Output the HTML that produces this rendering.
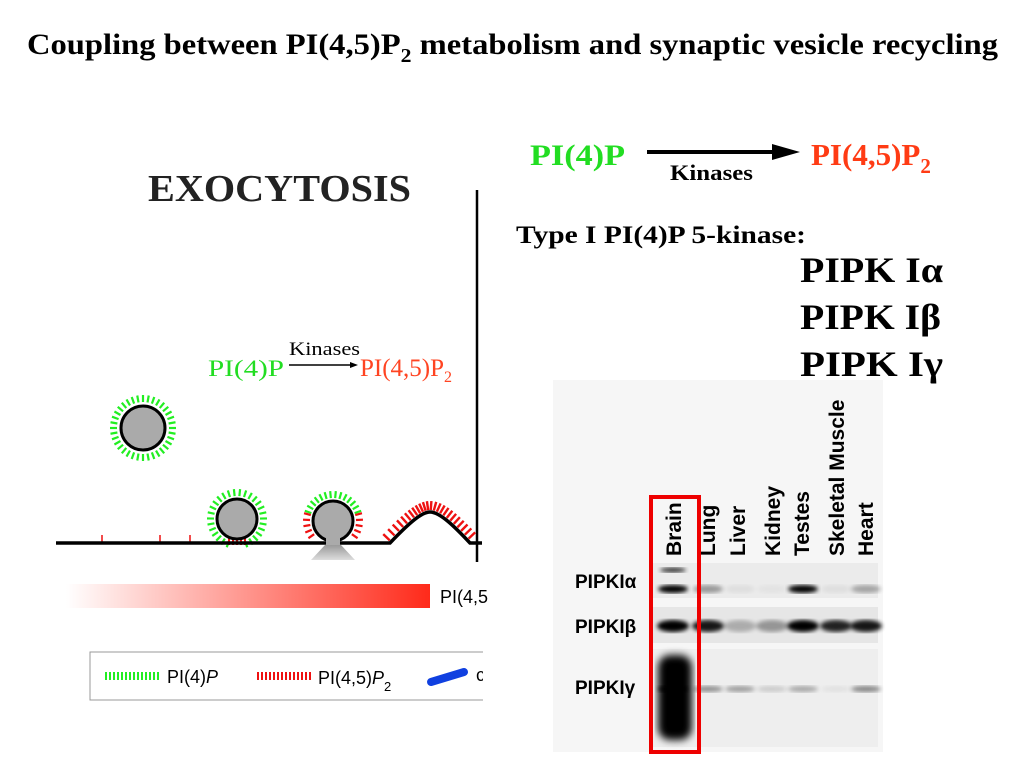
<!DOCTYPE html>
<html><head><meta charset="utf-8"><style>
html,body{margin:0;padding:0;background:#fff;width:1024px;height:768px;overflow:hidden}
svg{display:block}
.ser{font-family:"Liberation Serif",serif;font-weight:bold}
.san{font-family:"Liberation Sans",sans-serif}
</style></head><body>
<svg id="s" width="1024" height="768" viewBox="0 0 1024 768">
<defs>
<linearGradient id="gr" x1="0" x2="1"><stop offset="0" stop-color="#fff"/><stop offset="1" stop-color="#ff2a1a"/></linearGradient>
<linearGradient id="sh" x1="0" x2="0" y1="0" y2="1"><stop offset="0" stop-color="#999"/><stop offset="1" stop-color="#ddd"/></linearGradient>
<filter id="bl"><feGaussianBlur stdDeviation="2"/></filter>
<filter id="bl2"><feGaussianBlur stdDeviation="4"/></filter>
</defs>
<text class="ser" x="27" y="54" font-size="30" textLength="971" lengthAdjust="spacingAndGlyphs">Coupling between PI(4,5)P<tspan font-size="20" dy="8">2</tspan><tspan dy="-8"> metabolism and synaptic vesicle recycling</tspan></text>

<text class="ser" x="148" y="201" font-size="38" fill="#222" textLength="263" lengthAdjust="spacingAndGlyphs">EXOCYTOSIS</text>
<line x1="477" y1="190" x2="477" y2="562" stroke="#000" stroke-width="2.5"/>
<g font-family="Liberation Serif,serif" font-size="23">
<text x="208" y="376" fill="#22dd22" textLength="76" lengthAdjust="spacingAndGlyphs">PI(4)P</text>
<text x="289" y="355" font-size="19" textLength="71" lengthAdjust="spacingAndGlyphs">Kinases</text>
<line x1="289" y1="365" x2="352" y2="365" stroke="#000" stroke-width="1.5"/>
<polygon points="358,365 350,362 350,368"/>
<text x="360" y="376" fill="#ff4422" font-size="25">PI(4,5)P<tspan font-size="16" dy="6">2</tspan></text>
</g>
<g id="ticks"></g>
<path d="M56,543 L390,543 C410,522 422,512 430,512 C440,512 455,527 470,543 L482,543" fill="none" stroke="#000" stroke-width="3.5"/>
<polygon points="325,545 341,545 355,560 311,560" fill="url(#sh)"/>
<circle cx="143" cy="428" r="22" fill="#aaa" stroke="#000" stroke-width="3"/>
<circle cx="237" cy="519" r="20" fill="#aaa" stroke="#000" stroke-width="3"/>
<circle cx="333" cy="521" r="20" fill="#aaa" stroke="#000" stroke-width="3"/>
<rect x="326" y="536" width="14" height="9" fill="#aaa"/>
<rect x="66" y="584" width="364" height="24" fill="url(#gr)"/>
<text class="san" x="440" y="603" font-size="18">PI(4,5</text>
<rect x="90" y="652" width="400" height="48" fill="none" stroke="#999" stroke-width="1"/>
<g><g id="lg1"></g><text class="san" x="167" y="683" font-size="18">PI(4)<tspan font-style="italic">P</tspan></text></g>
<g><g id="lg2"></g><text class="san" x="318" y="684" font-size="18">PI(4,5)<tspan font-style="italic">P</tspan><tspan font-size="13" dy="7">2</tspan></text></g>
<line x1="431" y1="682" x2="464" y2="672" stroke="#1040e0" stroke-width="8" stroke-linecap="round"/>
<text class="san" x="476" y="681" font-size="18">c</text>
<rect x="483" y="640" width="60" height="70" fill="#fff"/>

<g class="ser">
<text x="530" y="165" font-size="30" fill="#22dd22" textLength="95" lengthAdjust="spacingAndGlyphs">PI(4)P</text>
<line x1="647" y1="152" x2="780" y2="152" stroke="#000" stroke-width="4"/>
<polygon points="800,152 772,144 772,160"/>
<text x="670" y="180" font-size="22" textLength="83" lengthAdjust="spacingAndGlyphs">Kinases</text>
<text x="811" y="165" font-size="31" fill="#ff3b14">PI(4,5)P<tspan font-size="21" dy="8">2</tspan></text>
</g>
<text class="ser" x="516" y="243" font-size="25" textLength="290" lengthAdjust="spacingAndGlyphs">Type I PI(4)P 5-kinase:</text>
<text class="ser" x="800" y="282" font-size="36" textLength="143" lengthAdjust="spacingAndGlyphs">PIPK Iα</text>
<text class="ser" x="800" y="329" font-size="36" textLength="141" lengthAdjust="spacingAndGlyphs">PIPK Iβ</text>
<text class="ser" x="800" y="376" font-size="36" textLength="143" lengthAdjust="spacingAndGlyphs">PIPK Iγ</text>

<g>
<rect x="553" y="380" width="330" height="372" fill="#f6f6f6"/>
<g id="lanes" class="san" font-weight="bold" font-size="21"></g>
<rect x="652" y="563" width="226" height="35" fill="#ebebeb"/>
<rect x="652" y="607" width="226" height="36" fill="#e6e6e6"/>
<rect x="652" y="649" width="226" height="98" fill="#eeeeee"/>
<g id="bands"></g>
<text class="san" font-weight="bold" font-size="19" x="575" y="588">PIPKIα</text>
<text class="san" font-weight="bold" font-size="19" x="575" y="633">PIPKIβ</text>
<text class="san" font-weight="bold" font-size="19" x="575" y="694">PIPKIγ</text>
<rect x="651" y="497" width="48" height="255" fill="none" stroke="#e00" stroke-width="4"/>
</g>
</svg>
<script>
const NS='http://www.w3.org/2000/svg';
function mk(p,t,a){const e=document.createElementNS(NS,t);for(const k in a)e.setAttribute(k,a[k]);p.appendChild(e);return e;}
const T=document.getElementById('ticks');
function ring(cx,cy,r1,r2,a0,a1,n,col){for(let i=0;i<n;i++){const a=(a0+(a1-a0)*i/(n-1))*Math.PI/180;mk(T,'line',{x1:cx+r1*Math.cos(a),y1:cy+r1*Math.sin(a),x2:cx+r2*Math.cos(a),y2:cy+r2*Math.sin(a),stroke:col,'stroke-width':2.2});}}
ring(143,428,26,33,0,350,36,'#22ee22');
ring(237,519,23,30,110,430,28,'#22ee22');
ring(333,521,23,30,200,340,14,'#22ee22');
ring(333,521,23,30,145,195,5,'#ee1111');ring(333,521,23,30,345,395,5,'#ee1111');
for(let x=229;x<=247;x+=4)mk(T,'line',{x1:x,y1:535,x2:x,y2:545,stroke:'#ee1111','stroke-width':2});
[102,160,190].forEach(x=>mk(T,'line',{x1:x,y1:535,x2:x,y2:543,stroke:'#ee1111','stroke-width':1.5}));
const bez=p=>t=>{const u=1-t;return [u*u*u*p[0][0]+3*u*u*t*p[1][0]+3*u*t*t*p[2][0]+t*t*t*p[3][0],u*u*u*p[0][1]+3*u*u*t*p[1][1]+3*u*t*t*p[2][1]+t*t*t*p[3][1]];};
const bump=bez([[390,543],[410,522],[422,512],[430,512]]);
const bump2=bez([[430,512],[440,512],[455,527],[470,543]]);
[bump,bump2].forEach(f=>{for(let i=0;i<12;i++){const t=i/12+0.02;const a=f(t),b=f(t+0.01);let dx=b[0]-a[0],dy=b[1]-a[1];const l=Math.hypot(dx,dy);const nx=dy/l,ny=-dx/l;mk(T,'line',{x1:a[0]+nx*2,y1:a[1]+ny*2,x2:a[0]+nx*11,y2:a[1]+ny*11,stroke:'#ee1111','stroke-width':2.4});}});
for(let i=0;i<14;i++){mk(document.getElementById('lg1'),'line',{x1:106+i*4,y1:672,x2:106+i*4,y2:680,stroke:'#22ee22','stroke-width':2});mk(document.getElementById('lg2'),'line',{x1:258+i*4,y1:672,x2:258+i*4,y2:680,stroke:'#ee1111','stroke-width':2});}
const lanes=['Brain','Lung','Liver','Kidney','Testes','Skeletal Muscle','Heart'];
const laneX=[681,715,745,780,809,844,873];
const L=document.getElementById('lanes');
lanes.forEach((n,i)=>{const t=mk(L,'text',{x:laneX[i],y:556,transform:`rotate(-90 ${laneX[i]} 556)`});t.textContent=n;});
const alphaBand=[1,0.35,0.05,0.03,1,0.05,0.3];
const betaBand=[1,0.9,0.25,0.35,1,0.85,0.9];
const gammaBand=[1,0.4,0.35,0.15,0.3,0.05,0.45];
const B=document.getElementById('bands');
const cx=[673,708,740,772,803,836,866];
function band(vals,y,rx,ry){vals.forEach((v,i)=>{mk(B,'ellipse',{cx:cx[i],cy:y,rx:rx,ry:ry,fill:'#000',opacity:v,filter:'url(#bl)'});});}
band(alphaBand,589,15,4);
mk(B,'ellipse',{cx:673,cy:570,rx:13,ry:2.5,fill:'#000',opacity:0.8,filter:'url(#bl)'});
band(betaBand,626,16,6);
band(gammaBand,689,15,3);
mk(B,'rect',{x:658,y:655,width:34,height:85,rx:12,fill:'#000',filter:'url(#bl2)'});
</script>
</body></html>
